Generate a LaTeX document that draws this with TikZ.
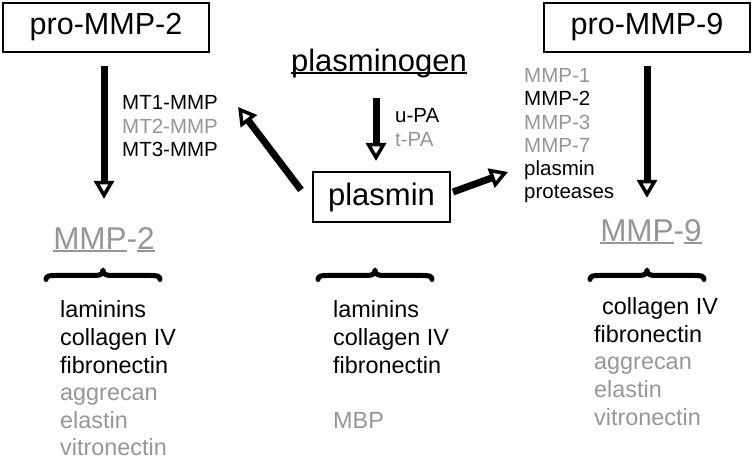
\documentclass[tikz,border=0pt]{standalone}
\usepackage{fontspec}
\setmainfont{Liberation Sans}
\usetikzlibrary{arrows.meta}
\definecolor{lg}{RGB}{150,150,150}
\newsavebox\ulbox
\newcommand\myul[1]{\sbox\ulbox{#1}\rlap{\rule[-2pt]{\wd\ulbox}{1.5pt}}\usebox\ulbox}
\begin{document}
\begin{tikzpicture}[x=1pt,y=-1pt,
  headbox/.style={draw, line width=2pt, minimum width=206pt, minimum height=49pt, inner sep=0pt},
  item/.style={anchor=base west, inner sep=0pt, font=\fontsize{23.4}{27}\selectfont},
  smallitem/.style={anchor=base west, inner sep=0pt, font=\fontsize{20.5}{24}\selectfont},
  biglabel/.style={anchor=base, inner sep=0pt, text=lg, font=\fontsize{31.5}{36}\selectfont},
  bigarrow/.style={line width=7pt, -{Triangle[open,length=18pt,width=20pt,line width=3.5pt]}},
  bracestyle/.style={line width=5pt, line cap=round, line join=round}]
\useasboundingbox (0,0) rectangle (755,470);

% heading boxes
\node[headbox] (pm2) at (106,27.5) {\fontsize{30.5}{34}\selectfont pro-MMP-2};
\node[headbox] (pm9) at (647,27.5) {\fontsize{30.5}{34}\selectfont pro-MMP-9};
\node[draw, line width=2pt, minimum width=137pt, minimum height=50pt, inner sep=0pt] (pl) at (381.5,197) {\fontsize{31}{36}\selectfont plasmin};
\node[anchor=base, inner sep=0pt] (pg) at (379,72) {\fontsize{31}{36}\selectfont\myul{plasminogen}};

% MMP labels
\node[biglabel] (mmp2) at (104,250) {\myul{MMP}-\myul{2}};
\node[biglabel] (mmp9) at (651,242) {\myul{MMP}-\myul{9}};

% MT list
\node[smallitem] (mt1) at (122,110) {MT1-MMP};
\node[smallitem, text=lg] (mt2) at (122,133.5) {MT2-MMP};
\node[smallitem] (mt3) at (122,157) {MT3-MMP};

% PA list
\node[smallitem] (upa) at (395,123) {u-PA};
\node[smallitem, text=lg] (tpa) at (395,147) {t-PA};

% activators of MMP-9
\node[smallitem, text=lg] (r1) at (524,83) {MMP-1};
\node[smallitem] (r2) at (524,106) {MMP-2};
\node[smallitem, text=lg] (r3) at (524,129.5) {MMP-3};
\node[smallitem, text=lg] (r4) at (524,153) {MMP-7};
\node[smallitem] (r5) at (524,176) {plasmin};
\node[smallitem] (r6) at (524,199) {proteases};

% substrate lists
\node[item] (l1) at (60,318) {laminins};
\node[item] (l2) at (60,345.5) {collagen IV};
\node[item] (l3) at (60,373) {fibronectin};
\node[item, text=lg] (l4) at (60,400.5) {aggrecan};
\node[item, text=lg] (l5) at (60,428) {elastin};
\node[item, text=lg] (l6) at (60,455) {vitronectin};

\node[item] (c1) at (333,318) {laminins};
\node[item] (c2) at (333,345.5) {collagen IV};
\node[item] (c3) at (333,373) {fibronectin};
\node[item, text=lg] (c4) at (333,428) {MBP};

\node[item] (s1) at (602,315) {collagen IV};
\node[item] (s2) at (594,342.5) {fibronectin};
\node[item, text=lg] (s3) at (594,370) {aggrecan};
\node[item, text=lg] (s4) at (594,397.5) {elastin};
\node[item, text=lg] (s5) at (594,425) {vitronectin};

% braces
\foreach \cx in {103,375,647}{
  \draw[bracestyle] (\cx-57,279.5) .. controls (\cx-57,276) and (\cx-54,275.5) .. (\cx-48,275.5)
    -- (\cx-8,275.5) .. controls (\cx-3,275.5) and (\cx,274) .. (\cx,270)
    .. controls (\cx,274) and (\cx+3,275.5) .. (\cx+8,275.5)
    -- (\cx+48,275.5) .. controls (\cx+54,275.5) and (\cx+57,276) .. (\cx+57,279.5);
}

% arrows
\draw[bigarrow, shorten <=13pt, shorten >=29pt] (pm2.south -| mmp2.north) -- (mmp2.north);
\draw[bigarrow, shorten <=13pt, shorten >=22pt] (pm9.south) -- (pm9.south |- mmp9.north);
\draw[bigarrow, shorten <=19pt, shorten >=10pt] ([xshift=-3pt]pg.south) -- ([xshift=-5.5pt]pl.north);
\draw[bigarrow] ([shift={(-11,-7)}]pl.west) -- ([shift={(20,-3)}]mt1.base east);
\draw[bigarrow] ([shift={(2,-5)}]pl.east) -- ([shift={(-16,-4)}]r5.base west);
\end{tikzpicture}
\end{document}
